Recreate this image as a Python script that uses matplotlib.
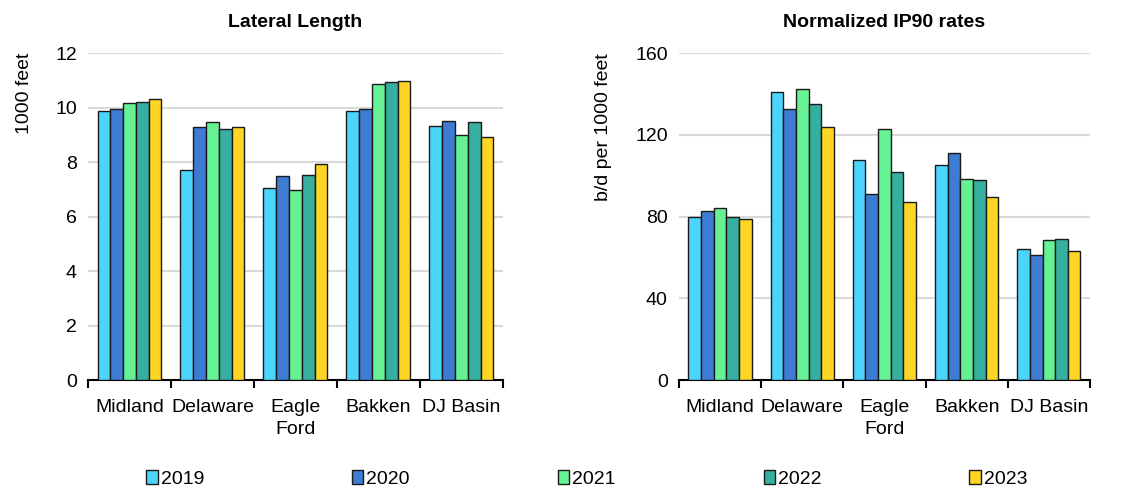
import matplotlib
matplotlib.use("Agg")
import matplotlib.pyplot as plt
import numpy as np
from matplotlib.patches import Patch

plt.rcParams['font.family'] = ['Liberation Sans', 'DejaVu Sans']

basins = ["Midland", "Delaware", "Eagle\nFord", "Bakken", "DJ Basin"]
years = ["2019", "2020", "2021", "2022", "2023"]
colors = ["#4BD4FC", "#3E7BD3", "#66F294", "#36AEA0", "#FED425"]

# Lateral length, thousand feet (rows: years, columns: basins)
lateral_2019 = [9.87, 7.70, 7.06, 9.89, 9.34]
lateral_2020 = [9.95, 9.28, 7.49, 9.96, 9.49]
lateral_2021 = [10.15, 9.46, 6.97, 10.85, 8.99]
lateral_2022 = [10.22, 9.21, 7.54, 10.95, 9.46]
lateral_2023 = [10.31, 9.28, 7.93, 10.99, 8.93]

# Normalized IP90 rates, b/d per 1000 feet
ip90_2019 = [80.0, 140.7, 107.6, 105.2, 64.3]
ip90_2020 = [82.5, 132.8, 90.8, 111.2, 61.4]
ip90_2021 = [84.0, 142.5, 122.7, 98.5, 68.7]
ip90_2022 = [80.0, 135.1, 101.7, 97.7, 69.2]
ip90_2023 = [78.7, 124.0, 86.9, 89.8, 63.3]

lateral = [lateral_2019, lateral_2020, lateral_2021, lateral_2022, lateral_2023]
ip90 = [ip90_2019, ip90_2020, ip90_2021, ip90_2022, ip90_2023]

fig = plt.figure(figsize=(11.35, 4.92), dpi=100)
ax1 = fig.add_axes([0.0775, 0.2276, 0.3656, 0.6646])
ax2 = fig.add_axes([0.5982, 0.2276, 0.3621, 0.6646])

FS = 14
bar_w = 0.154


def draw_panel(ax, series, ymax, ystep, title, ylabel, labelpad):
    n = len(series)
    centers = np.arange(len(basins)) + 0.5
    for k, vals in enumerate(series):
        offs = (k - (n - 1) / 2) * bar_w
        ax.bar(centers + offs, vals, width=bar_w, color=colors[k],
               edgecolor="#1a1a1a", linewidth=1.0, zorder=3)
    ax.set_xlim(0, len(basins))
    ax.set_ylim(0, ymax)
    ax.set_yticks(np.arange(0, ymax + 0.1, ystep))
    ax.yaxis.grid(True, color="#d9d9d9", linewidth=1.5, zorder=0)
    ax.set_axisbelow(True)
    for s in ["top", "right", "left"]:
        ax.spines[s].set_visible(False)
    ax.spines["bottom"].set_linewidth(1.5)
    ax.spines["bottom"].set_color("black")
    ax.set_xticks(np.arange(len(basins) + 1))
    ax.set_xticklabels([])
    ax.set_xticks(centers, minor=True)
    ax.set_xticklabels(basins, minor=True, fontsize=FS, linespacing=1.35)
    ax.tick_params(axis="x", which="major", length=6, width=1.5, direction="out")
    ax.tick_params(axis="x", which="minor", length=0, pad=14)
    ax.tick_params(axis="y", length=0, labelsize=FS, pad=8)
    ax.set_title(title, fontsize=FS, fontweight="bold", pad=19)
    ax.set_ylabel(ylabel, fontsize=FS, labelpad=labelpad, loc="top")


draw_panel(ax1, lateral, 12, 2, "Lateral Length", "1000 feet", 16)
draw_panel(ax2, ip90, 160, 40, "Normalized IP90 rates", "b/d per 1000 feet", 17)

handles = [Patch(facecolor=c, edgecolor="#1a1a1a", linewidth=1.0) for c in colors]
fig.legend(handles, years, loc="center", bbox_to_anchor=(0.517, 0.026),
           ncol=5, frameon=False, fontsize=FS, handlelength=0.6,
           handleheight=0.7, handletextpad=0.15, columnspacing=7.6)

fig.savefig("out.png", dpi=100)
